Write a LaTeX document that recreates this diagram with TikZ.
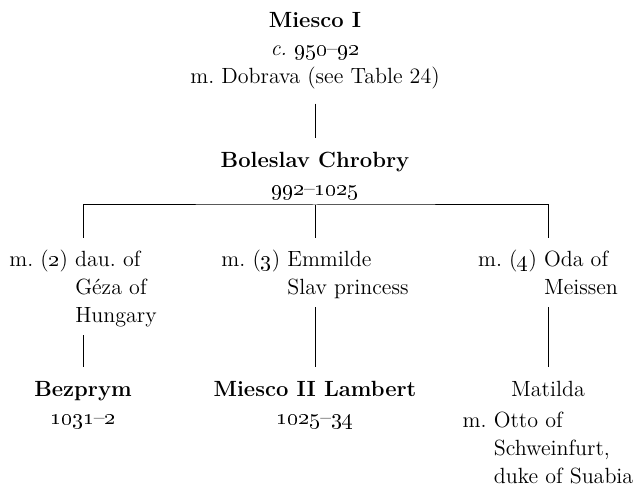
\documentclass[tikz,border=0pt]{standalone}
\usetikzlibrary{positioning}

\begin{document}
\begin{tikzpicture}[x=0.5pt, y=-0.5pt, line width=0.5pt,
	every node/.style={font=\fontsize{11}{14}\selectfont\frenchspacing},
	ruler/.style={align=center, anchor=north, inner xsep=0pt, inner ysep=7pt},
	wed/.style={align=left, anchor=north, inner xsep=0pt, inner ysep=6pt, text depth=0pt}]
	\useasboundingbox (0,0) rectangle (639,486);
	\node[ruler] (miesco) at (315,-2) {\textbf{Miesco I}\\ \textit{c.}~\oldstylenums{950}--\oldstylenums{92}\\ m. Dobrava (see Table 24)};
	\node[ruler] (chrobry) at (315,138) {\textbf{Boleslav Chrobry}\\ \oldstylenums{992}--\oldstylenums{1025}};
	\coordinate (bar) at (315,205);
	% the three wives
	\node[wed] (geza) at (83,238) {m. (\oldstylenums{2}) dau. of\\ \hphantom{m. (\oldstylenums{2}) }Géza of\\ \hphantom{m. (\oldstylenums{2}) }Hungary};
	\node[wed] (emmilde) at (315,238) {m. (\oldstylenums{3}) Emmilde\\ \hphantom{m. (\oldstylenums{3}) }Slav princess};
	\node[wed] (oda) at (548,238) {m. (\oldstylenums{4}) Oda of\\ \hphantom{m. (\oldstylenums{4}) }Meissen};
	% the children
	\node[ruler] (bezprym) at (83,367) {\textbf{Bezprym}\\ \oldstylenums{1031}--\oldstylenums{2}};
	\node[ruler] (lambert) at (315,367) {\textbf{Miesco II Lambert}\\ \oldstylenums{1025}--\oldstylenums{34}};
	\node[ruler] (matilda) at (548,367) {Matilda};
	\node[wed, inner ysep=0pt, below=0pt of matilda] (otto) {m. Otto of\\ \hphantom{m. }Schweinfurt,\\ \hphantom{m. }duke of Suabia};
	\draw (miesco.south) -- (chrobry.north);
	\draw (geza.north) |- (bar) -| (oda.north);
	\draw (bar) -- (emmilde.north);
	\draw (geza.south) -- (bezprym.north);
	\draw (emmilde.south) -- (lambert.north);
	\draw (oda.south) -- (matilda.north);
\end{tikzpicture}
\end{document}
